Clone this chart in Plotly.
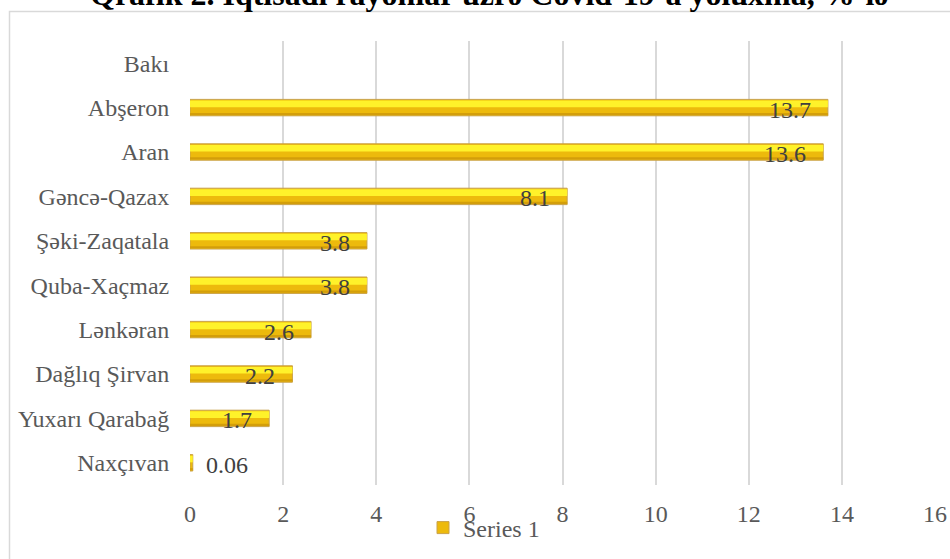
import plotly.graph_objects as go

categories = ["Bakı", "Abşeron", "Aran", "Gəncə-Qazax", "Şəki-Zaqatala",
              "Quba-Xaçmaz", "Lənkəran", "Dağlıq Şirvan", "Yuxarı Qarabağ", "Naxçıvan"]
values = [None, 13.7, 13.6, 8.1, 3.8, 3.8, 2.6, 2.2, 1.7, 0.06]
labels = [None, "13.7", "13.6", "8.1", "3.8", "3.8", "2.6", "2.2", "1.7", "0.06"]
x_ticks = [0, 2, 4, 6, 8, 10, 12, 14, 16]
series_name = "Series 1"
title_text = "Qrafik 2. İqtisadi rayonlar üzrə Covid-19-a yoluxma, %-lə"

FONT = "Liberation Serif, Times New Roman, serif"
FS = 24
L, R, T, B = 190, 15, 41, 74
W, H = 950, 559
pw, ph = W - L - R, H - T - B

def px_x(p):
    return (p - L) / pw

def px_y(p):
    return (H - B - p) / ph

fig = go.Figure()
BW = 0.37
# base bar (gold)
fig.add_trace(go.Bar(
    x=values, y=categories, orientation="h", name=series_name,
    width=BW, offset=-BW / 2,
    marker=dict(color="#EDBA0C", line=dict(color="#C9A24A", width=1)),
    showlegend=True, hoverinfo="skip",
))
# top highlight
fig.add_trace(go.Bar(
    x=values, y=categories, orientation="h", showlegend=False,
    width=0.15, offset=-0.16,
    marker=dict(color="#FFF22A", line=dict(width=0)),
    hoverinfo="skip",
))
# bottom shade
fig.add_trace(go.Bar(
    x=values, y=categories, orientation="h", showlegend=False,
    width=0.05, offset=0.12,
    marker=dict(color="#D39E0A", line=dict(width=0)),
    hoverinfo="skip",
))

annotations = []
for c, v, t in zip(categories, values, labels):
    if v is None:
        continue
    if v < 0.5:
        annotations.append(dict(x=v, y=c, xref="x", yref="y", text=t, showarrow=False,
                                xanchor="left", yanchor="middle", xshift=11, yshift=-2,
                                font=dict(family=FONT, size=FS, color="#404040")))
    else:
        annotations.append(dict(x=v, y=c, xref="x", yref="y", text=t, showarrow=False,
                                xanchor="right", yanchor="middle", xshift=-15, yshift=-2,
                                font=dict(family=FONT, size=FS, color="#404040")))

annotations.append(dict(x=px_x(489), y=px_y(-6), xref="paper", yref="paper",
                        text="<b>" + title_text + "</b>", showarrow=False,
                        xanchor="center", yanchor="middle",
                        font=dict(family=FONT, size=32, color="#000000")))

fig.update_layout(
    width=W, height=H,
    margin=dict(l=L, r=R, t=T, b=B, pad=0, autoexpand=False),
    paper_bgcolor="white", plot_bgcolor="white",
    barmode="overlay",
    font=dict(family=FONT, size=FS, color="#595959"),
    annotations=annotations,
    shapes=[dict(type="rect", xref="paper", yref="paper",
                 x0=px_x(9.5), x1=1.2, y0=-0.4, y1=px_y(11.5),
                 line=dict(color="#D9D9D9", width=1.5), fillcolor="rgba(0,0,0,0)",
                 layer="below")],
    xaxis=dict(range=[0, 16], tickvals=x_ticks, showgrid=True, gridcolor="#D9D9D9",
               gridwidth=1.5, zeroline=False, showline=False, automargin=False,
               ticks="outside", ticklen=7, tickcolor="rgba(0,0,0,0)",
               tickfont=dict(family=FONT, size=FS, color="#595959")),
    yaxis=dict(type="category", categoryorder="array", categoryarray=categories,
               autorange="reversed", showgrid=False, zeroline=False, showline=False,
               automargin=False,
               ticks="outside", ticklen=15, tickcolor="rgba(0,0,0,0)",
               tickfont=dict(family=FONT, size=FS, color="#595959")),
    legend=dict(orientation="h", x=px_x(423), y=px_y(528), xanchor="left", yanchor="middle",
                bgcolor="rgba(0,0,0,0)", font=dict(family=FONT, size=FS, color="#595959"),
                itemwidth=30),
    showlegend=True,
)

fig.write_html("out.html")
